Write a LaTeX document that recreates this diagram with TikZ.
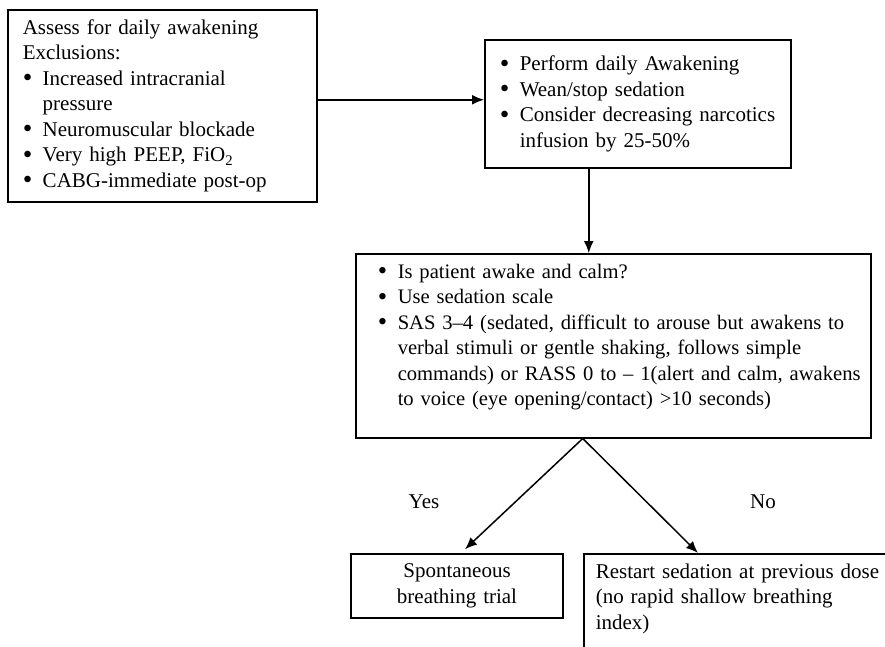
\documentclass[tikz,border=0pt]{standalone}
\usepackage{fontspec}
\setmainfont{Liberation Serif}
\usepackage{tikz}
\usetikzlibrary{calc,arrows.meta,positioning}
\newcommand{\bul}{\makebox[20pt][l]{\raisebox{-0.07em}{\scalebox{1.3}{\textbullet}}}}
\newcommand{\hng}{\hspace*{20pt}}
\tikzset{
  ar/.style={-{Latex[length=12pt,width=10pt]},line width=1.5pt},
  box/.style={draw,line width=1.5pt,align=left,inner xsep=15pt,inner ysep=0pt,font=\fontsize{21}{25.5}\selectfont},
  lbl/.style={font=\fontsize{21}{25.5}\selectfont}
}

\begin{document}
\begin{tikzpicture}[x=1pt,y=-1pt]
\useasboundingbox (0,0) rectangle (885,646);
\clip (0,0) rectangle (885,646);
% boxes
\node[box,anchor=north west,text width=279pt,minimum height=192pt] (assess) at (7,9)
  {Assess for daily awakening\\
   Exclusions:\\
   \bul Increased intracranial\\
   \hng pressure\\
   \bul Neuromuscular blockade\\
   \bul Very high PEEP, FiO\textsubscript{2}\\
   \bul CABG-immediate post-op};
\node[box,anchor=north west,text width=276pt,minimum height=128pt] (wake) at (484,39)
  {\bul Perform daily Awakening\\
   \bul Wean/stop sedation\\
   \bul Consider decreasing narcotics\\
   \hng infusion by 25-50\%};
\node[box,anchor=north west,inner xsep=22pt,text width=471pt,minimum height=184pt,text depth=153pt,
      font=\fontsize{20.6}{25.5}\selectfont] (calm) at (355,253)
  {\begin{tabular}[t]{@{}l@{}}
   \bul Is patient awake and calm?\\
   \bul Use sedation scale\\
   \bul SAS 3--4 (sedated, difficult to arouse but awakens to\\
   \hng verbal stimuli or gentle shaking, follows simple\\
   \hng commands) or RASS 0 to -- 1(alert and calm, awakens\\
   \hng to voice (eye opening/contact) >10 seconds)
   \end{tabular}};
\node[box,align=center,text width=182pt,minimum height=64pt] (sbt) at (457,586)
  {Spontaneous\\breathing trial};
\node[box,anchor=north west,inner xsep=12pt,inner ysep=10pt,text width=310pt,text depth=110pt] (restart) at (583,553)
  {Restart sedation at previous dose\\
   (no rapid shallow breathing\\
   index)};
% labels
\node[lbl] (yes) at (424,502) {Yes};
\node[lbl] (no) at (763,502) {No};
% arrows
\coordinate (fork) at ([xshift=-30.5pt]calm.south);
\draw[ar] ([yshift=6pt]assess.east) -- ([yshift=6pt]assess.east -| wake.west);
\draw[ar] ([xshift=-49pt]wake.south) -- ([xshift=-49pt]wake.south |- calm.north);
\draw[ar] (fork) -- ([xshift=8pt,yshift=4pt]sbt.north);
\draw[ar] (fork) -- ([xshift=115pt]restart.north west);
\end{tikzpicture}
\end{document}
